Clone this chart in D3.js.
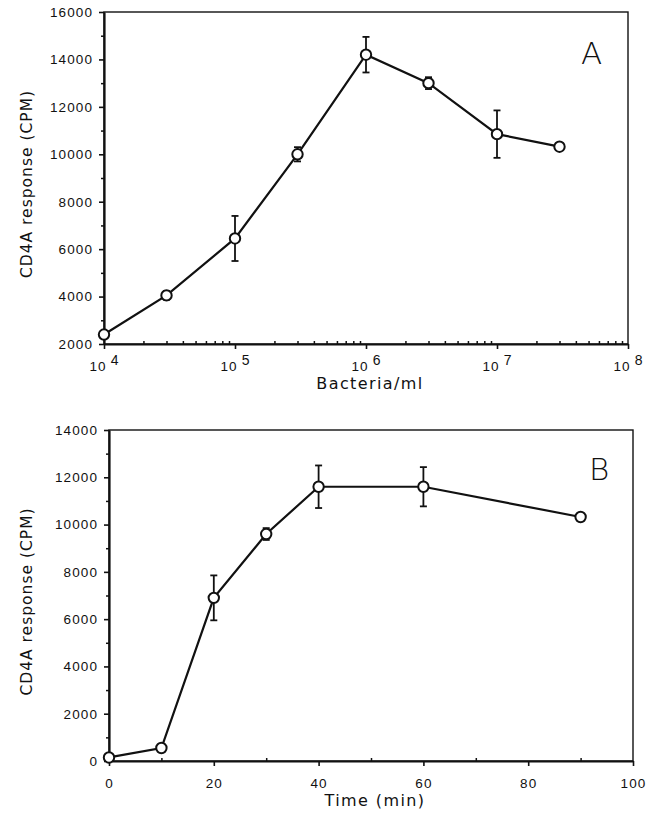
<!DOCTYPE html>
<html>
<head>
<meta charset="utf-8">
<script src="https://cdn.jsdelivr.net/npm/d3@7"></script>
<style>
  body { margin: 0; background: #fff; }
  svg { font-family: "DejaVu Sans", sans-serif; }
  .axis path, .axis line { stroke: #111; }
  .axis text { fill: #111; font-size: 13.5px; letter-spacing: 1.1px; }
</style>
</head>
<body>
<div class="graph"></div>
<script>
// panel A: response vs bacterial dose
const doseA = [1e4, 3e4, 1e5, 3e5, 1e6, 3e6, 1e7, 3e7];
const respA = [2400, 4050, 6450, 10000, 14200, 13000, 10850, 10320];
const errA = [150, 180, 950, 300, 750, 250, 1000, 100];
const yTicksA = [2000, 4000, 6000, 8000, 10000, 12000, 14000, 16000];
const xTicksA = [1e4, 1e5, 1e6, 1e7, 1e8];

// panel B: response vs time
const timeB = [0, 10, 20, 30, 40, 60, 90];
const respB = [150, 550, 6900, 9600, 11600, 11600, 10320];
const errB = [0, 0, 950, 250, 900, 830, 80];
const yTicksB = [0, 2000, 4000, 6000, 8000, 10000, 12000, 14000];
const xTicksB = [0, 20, 40, 60, 80, 100];

const svg = d3.select('.graph').append('svg').attr('width', 661).attr('height', 816);

const drawPanel = (cfg) => {
    const { x, y, xs, ys, errs, yTicks, yMinor, xTicks, xMinor, xFormat, xTitle, letter, letterPos } = cfg;
    const g = svg.append('g');

    // frame
    g.append('rect')
        .attr('x', x.range()[0]).attr('y', y.range()[1])
        .attr('width', x.range()[1] - x.range()[0])
        .attr('height', y.range()[0] - y.range()[1])
        .attr('fill', 'none').attr('stroke', '#111').attr('stroke-width', 1.4);

    // minor ticks
    g.append('g').attr('class', 'axis')
        .attr('transform', `translate(0,${y.range()[0]})`)
        .call(d3.axisBottom(x).tickValues(xMinor).tickSize(-3).tickFormat(''))
        .call(a => a.select('.domain').remove())
        .selectAll('line').attr('stroke-width', 1.5);
    g.append('g').attr('class', 'axis')
        .attr('transform', `translate(${x.range()[0]},0)`)
        .call(d3.axisLeft(y).tickValues(yMinor).tickSize(3).tickFormat(''))
        .call(a => a.select('.domain').remove())
        .selectAll('line').attr('stroke-width', 1.5);

    // major axes
    const xa = g.append('g').attr('class', 'axis')
        .attr('transform', `translate(0,${y.range()[0]})`)
        .call(d3.axisBottom(x).tickValues(xTicks).tickSize(5).tickSizeOuter(0).tickPadding(12).tickFormat(xFormat ? '' : d3.format('d')));
    xa.select('.domain').attr('stroke-width', 2.2);
    xa.selectAll('line').attr('stroke-width', 1.6);
    if (xFormat) xFormat(xa);

    const ya = g.append('g').attr('class', 'axis')
        .attr('transform', `translate(${x.range()[0]},0)`)
        .call(d3.axisLeft(y).tickValues(yTicks).tickSize(5).tickSizeOuter(0).tickPadding(6).tickFormat(d3.format('d')));
    ya.select('.domain').attr('stroke-width', 2.2);
    ya.selectAll('line').attr('stroke-width', 1.6);

    // titles
    const cy = (y.range()[0] + y.range()[1]) / 2;
    g.append('text')
        .attr('transform', `translate(32,${cy + 6}) rotate(-90)`)
        .attr('text-anchor', 'middle').attr('font-size', 15.5).attr('letter-spacing', 1)
        .attr('fill', '#111').text('CD4A response (CPM)');
    g.append('text')
        .attr('x', (x.range()[0] + x.range()[1]) / 2 + 4).attr('y', y.range()[0] + 45)
        .attr('text-anchor', 'middle').attr('font-size', 16).attr('letter-spacing', 1.4)
        .attr('fill', '#111').text(xTitle);
    g.append('text')
        .attr('x', letterPos[0]).attr('y', letterPos[1])
        .attr('font-size', 31).attr('font-weight', 300).attr('fill', '#111').text(letter);

    // error bars
    const pts = xs.map((d, i) => ({ x: d, y: ys[i], e: errs[i] }));
    const eb = g.append('g').selectAll('g').data(pts.filter(d => d.e > 120)).join('g')
        .attr('stroke', '#111').attr('stroke-width', 1.8);
    eb.append('line')
        .attr('x1', d => x(d.x)).attr('x2', d => x(d.x))
        .attr('y1', d => y(d.y + d.e)).attr('y2', d => y(d.y - d.e));
    eb.append('line')
        .attr('x1', d => x(d.x) - 3.5).attr('x2', d => x(d.x) + 3.5)
        .attr('y1', d => y(d.y + d.e)).attr('y2', d => y(d.y + d.e));
    eb.append('line')
        .attr('x1', d => x(d.x) - 3.5).attr('x2', d => x(d.x) + 3.5)
        .attr('y1', d => y(d.y - d.e)).attr('y2', d => y(d.y - d.e));

    // line and points
    g.append('path').datum(pts)
        .attr('d', d3.line().x(d => x(d.x)).y(d => y(d.y)))
        .attr('fill', 'none').attr('stroke', '#111').attr('stroke-width', 2.2);
    g.append('g').selectAll('circle').data(pts).join('circle')
        .attr('cx', d => x(d.x)).attr('cy', d => y(d.y)).attr('r', 5.2)
        .attr('fill', '#fff').attr('stroke', '#111').attr('stroke-width', 2);
};

// panel A
const xA = d3.scaleLog().domain([1e4, 1e8]).range([104, 628]);
const yA = d3.scaleLinear().domain([2000, 16000]).range([344, 12]);
const minorA = [];
[1e4, 1e5, 1e6, 1e7].forEach(p => d3.range(2, 10).forEach(k => minorA.push(p * k)));

drawPanel({
    x: xA, y: yA, xs: doseA, ys: respA, errs: errA,
    yTicks: yTicksA, yMinor: d3.range(3000, 16000, 2000),
    xTicks: xTicksA, xMinor: minorA,
    xFormat: (xa) => {
        const t = xa.selectAll('.tick text').text(null).attr('dy', '0.71em').attr('text-anchor', 'middle');
        t.append('tspan').text('10');
        t.append('tspan').attr('dx', 4).attr('dy', -6).attr('font-size', 14)
            .text(d => Math.round(Math.log10(d)));
    },
    xTitle: 'Bacteria/ml', letter: 'A', letterPos: [581, 64]
});

// panel B
const xB = d3.scaleLinear().domain([0, 100]).range([109, 633]);
const yB = d3.scaleLinear().domain([0, 14000]).range([761, 430]);

drawPanel({
    x: xB, y: yB, xs: timeB, ys: respB, errs: errB,
    yTicks: yTicksB, yMinor: d3.range(1000, 14000, 2000),
    xTicks: xTicksB, xMinor: d3.range(10, 100, 20),
    xFormat: null,
    xTitle: 'Time (min)', letter: 'B', letterPos: [589, 480]
});
</script>
</body>
</html>
